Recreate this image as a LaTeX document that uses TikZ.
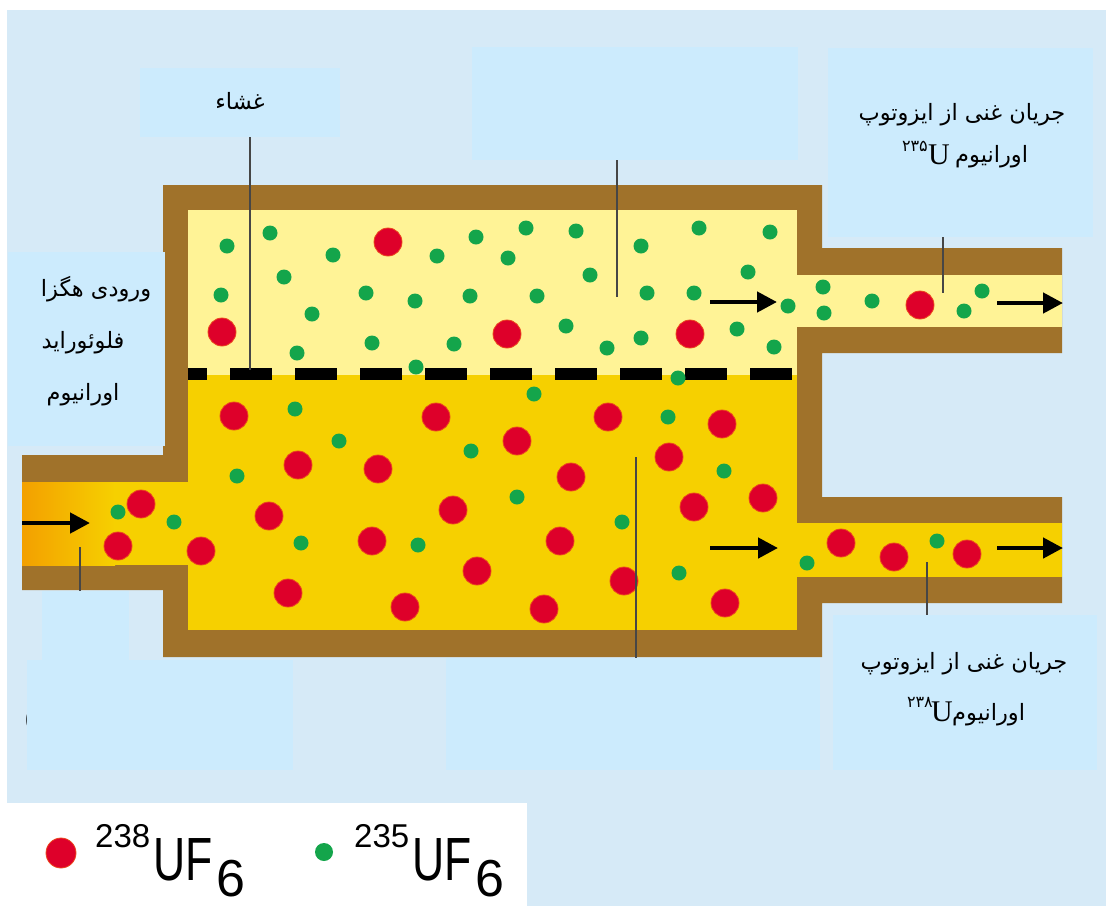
\documentclass[tikz,border=0pt]{standalone}
\usepackage{fontspec}
\usetikzlibrary{arrows.meta}
\TeXXeTstate=1
\setmainfont{Liberation Serif}
\newfontfamily\arabicfont[Script=Arabic]{DejaVu Sans}
\newfontfamily\legendfont{Liberation Sans}

\definecolor{pagebg}{RGB}{214,234,247}
\definecolor{boxbg}{RGB}{204,235,253}
\definecolor{wall}{RGB}{160,114,42}
\definecolor{lightgas}{RGB}{255,243,150}
\definecolor{densegas}{RGB}{246,208,0}
\definecolor{inletgas}{RGB}{243,160,0}
\definecolor{heavy}{RGB}{222,0,42}
\definecolor{heavyrim}{RGB}{236,72,30}
\definecolor{lightiso}{RGB}{20,165,75}
\definecolor{leader}{RGB}{70,70,70}

\tikzset{
  heavydot/.style={fill=heavy, draw=heavyrim, line width=0.8pt},
  lightdot/.style={fill=lightiso},
  flow/.style={line width=4.5pt, -{Triangle[length=20pt,width=20pt]}},
  leaderline/.style={draw=leader, line width=1.5pt},
  labelbox/.style={fill=boxbg},
  fa/.style={font=\arabicfont\fontsize{22.5}{26}\selectfont, inner sep=0pt},
  faiso/.style={font=\arabicfont\fontsize{16}{16}\selectfont, inner sep=0pt},
  uletter/.style={font=\fontsize{30}{30}\selectfont, inner sep=0pt},
  legsup/.style={font=\legendfont\fontsize{33}{33}\selectfont, inner sep=0pt},
  legmain/.style={font=\legendfont\fontsize{61}{61}\selectfont, inner sep=0pt, xscale=0.73},
  legsub/.style={font=\legendfont\fontsize{52}{52}\selectfont, inner sep=0pt},
}

\begin{document}
\begin{tikzpicture}[x=1pt,y=-1pt]
\useasboundingbox (0,0) rectangle (1106,906);
% page and legend panel
\fill[white] (0,0) rectangle (1106,906);
\fill[pagebg] (7,10) rectangle (1106,906);
\fill[white] (7,803) rectangle (527,906);

% vessel walls
\fill[wall] (163,185) -- (822,185) -- (822,248) -- (1062,248) -- (1062,353)
  -- (822,353) -- (822,497) -- (1062,497) -- (1062,603) -- (822,603)
  -- (822,657) -- (163,657) -- (163,590) -- (22,590) -- (22,455) -- (163,455) -- cycle;

% gas spaces
\fill[lightgas] (188,210) rectangle (797,375);
\fill[lightgas] (797,275) rectangle (1062,327);
\fill[densegas] (188,375) rectangle (797,630);
\fill[densegas] (797,523) rectangle (1062,577);
\shade[left color=inletgas, right color=densegas] (22,482) rectangle (115,565);
\fill[densegas] (114,482) rectangle (188,565);

% porous membrane
\foreach \i in {0,...,9}{
  \pgfmathsetmacro{\xa}{max(188,165+65*\i)}
  \pgfmathsetmacro{\xb}{min(797,207+65*\i)}
  \fill[black] (\xa,368) rectangle (\xb,380);
}

% 235UF6 molecules
\foreach \x/\y in {227/246,270/233,333/255,284/277,221/295,312/314,297/353,366/293,
  372/343,415/301,437/256,476/237,470/296,526/228,508/258,537/296,454/344,416/367,
  576/231,590/275,566/326,641/246,647/293,641/338,607/348,699/228,694/293,748/272,
  737/329,770/232,774/347,678/378,788/306,823/287,824/313,872/301,964/311,982/291,
  295/409,534/394,668/417,339/441,471/451,237/476,517/497,724/471,622/522,174/522,
  301/543,418/545,679/573,807/563,118/512,937/541}
  \fill[lightdot] (\x,\y) circle[radius=7.5pt];

% 238UF6 molecules
\foreach \x/\y in {388/242,222/332,507/334,690/334,920/305,
  234/416,436/417,608/417,722/424,517/441,298/465,378/469,571/477,669/457,
  269/516,453/510,694/507,763/498,201/551,372/541,560/541,477/571,624/581,
  288/593,405/607,544/609,725/603,141/504,118/546,841/543,894/557,967/554}
  \fill[heavydot] (\x,\y) circle[radius=14pt];

% flow arrows
\coordinate (inA) at (22,523);   \coordinate (inB) at (90,523);
\coordinate (upA) at (710,302);  \coordinate (upB) at (777,302);
\coordinate (upC) at (997,303);  \coordinate (upD) at (1063,303);
\coordinate (loA) at (710,548);  \coordinate (loB) at (778,548);
\coordinate (loC) at (997,548);  \coordinate (loD) at (1063,548);
\draw[flow] (inA) -- (inB);
\draw[flow] (upA) -- (upB);
\draw[flow] (upC) -- (upD);
\draw[flow] (loA) -- (loB);
\draw[flow] (loC) -- (loD);

% label panels
\node[font=\fontsize{30}{30}\selectfont, inner sep=0pt] (cut) at (30,720) {(};
\fill[labelbox] (140,68) rectangle (340,137);
\fill[labelbox] (472,47) rectangle (798,160);
\fill[labelbox] (828,48) rectangle (1093,237);
\fill[labelbox] (8,252) rectangle (165,446);
\fill[labelbox] (42,591) rectangle (129,662);
\fill[labelbox] (27,660) rectangle (293,770);
\fill[labelbox] (446,658) rectangle (820,770);
\fill[labelbox] (833,615) rectangle (1097,770);

% leader lines
\coordinate (l1a) at (250,137); \coordinate (l1b) at (250,370);
\coordinate (l2a) at (617,160); \coordinate (l2b) at (617,297);
\coordinate (l3a) at (943,237); \coordinate (l3b) at (943,293);
\coordinate (l4a) at (80,547);  \coordinate (l4b) at (80,591);
\coordinate (l5a) at (636,457); \coordinate (l5b) at (636,658);
\coordinate (l6a) at (927,562); \coordinate (l6b) at (927,615);
\draw[leaderline] (l1a) -- (l1b);
\draw[leaderline] (l2a) -- (l2b);
\draw[leaderline] (l3a) -- (l3b);
\draw[leaderline] (l4a) -- (l4b);
\draw[leaderline] (l5a) -- (l5b);
\draw[leaderline] (l6a) -- (l6b);

% label texts
\node[fa] (membrane) at (240,101) {\beginR غشاء\endR};
\node[fa] (feed1) at (96,289) {\beginR ورودی هگزا\endR};
\node[fa] (feed2) at (83,343) {\beginR فلوئوراید\endR};
\node[fa] (feed3) at (83,395) {\beginR اورانیوم\endR};

\node[fa] (rich5a) at (962,115) {\beginR جریان غنی از ایزوتوپ\endR};
\node[fa, anchor=base west] (rich5b) at (955,162) {\beginR اورانیوم\endR};
\node[uletter, anchor=base east] (rich5u) at (950,164) {U};
\node[faiso, anchor=base east] (rich5n) at (928,151) {۲۳۵};

\node[fa] (rich8a) at (964,664) {\beginR جریان غنی از ایزوتوپ\endR};
\node[fa, anchor=base west] (rich8b) at (952,720) {\beginR اورانیوم\endR};
\node[uletter, anchor=base east] (rich8u) at (953,721) {U};
\node[faiso, anchor=base east] (rich8n) at (933,707) {۲۳۸};

% legend
\fill[heavydot] (61,853) circle[radius=15pt];
\node[legsup, anchor=base west] (leg8n) at (95,847) {238};
\node[legmain, anchor=base west] (leg8m) at (153,880) {UF};
\node[legsub, anchor=base west] (leg8s) at (216,896) {6};
\fill[lightdot] (324,852) circle[radius=9pt];
\node[legsup, anchor=base west] (leg5n) at (354,847) {235};
\node[legmain, anchor=base west] (leg5m) at (412,880) {UF};
\node[legsub, anchor=base west] (leg5s) at (475,896) {6};
\end{tikzpicture}
\end{document}
